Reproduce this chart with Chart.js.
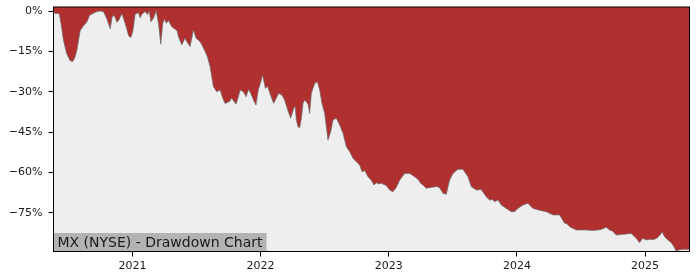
<!DOCTYPE html>
<html>
<head>
<meta charset="utf-8">
<script src="https://cdn.jsdelivr.net/npm/chart.js@4/dist/chart.umd.min.js"></script>
<style>
  html, body { margin: 0; padding: 0; background: #fff; }
  #wrap { width: 700px; height: 280px; }
</style>
</head>
<body>
<div id="wrap"><canvas id="chart"></canvas></div>
<script>
// x positions as decimal years, drawdown in percent
const years = [
  2020.386, 2020.398, 2020.421, 2020.431, 2020.444, 2020.462, 2020.488, 2020.514, 2020.535, 2020.553,
  2020.566, 2020.592, 2020.618, 2020.645, 2020.665, 2020.684, 2020.723, 2020.749, 2020.775, 2020.801,
  2020.827, 2020.840, 2020.853, 2020.866, 2020.879, 2020.892, 2020.905, 2020.918, 2020.931, 2020.952,
  2020.970, 2020.988, 2021.003, 2021.021, 2021.047, 2021.060, 2021.074, 2021.099, 2021.117, 2021.131,
  2021.144, 2021.164, 2021.185, 2021.203, 2021.221, 2021.237, 2021.250, 2021.263, 2021.281, 2021.307,
  2021.348, 2021.359, 2021.385, 2021.411, 2021.424, 2021.450, 2021.476, 2021.497, 2021.507, 2021.528,
  2021.541, 2021.567, 2021.585, 2021.606, 2021.619, 2021.632, 2021.658, 2021.684, 2021.705, 2021.723,
  2021.757, 2021.775, 2021.793, 2021.809, 2021.827, 2021.840, 2021.866, 2021.887, 2021.905, 2021.923,
  2021.944, 2021.964, 2021.982, 2021.998, 2022.016, 2022.037, 2022.055, 2022.076, 2022.102, 2022.122,
  2022.140, 2022.166, 2022.187, 2022.212, 2022.235, 2022.261, 2022.270, 2022.279, 2022.292, 2022.305,
  2022.318, 2022.331, 2022.344, 2022.370, 2022.383, 2022.396, 2022.409, 2022.422, 2022.443, 2022.461,
  2022.479, 2022.500, 2022.513, 2022.526, 2022.547, 2022.565, 2022.591, 2022.617, 2022.643, 2022.669,
  2022.695, 2022.721, 2022.747, 2022.773, 2022.792, 2022.812, 2022.838, 2022.864, 2022.885, 2022.903,
  2022.922, 2022.942, 2022.981, 2023.007, 2023.033, 2023.059, 2023.085, 2023.124, 2023.163, 2023.202,
  2023.228, 2023.249, 2023.267, 2023.293, 2023.319, 2023.371, 2023.397, 2023.423, 2023.449, 2023.475,
  2023.501, 2023.540, 2023.579, 2023.618, 2023.644, 2023.683, 2023.722, 2023.761, 2023.787, 2023.808,
  2023.826, 2023.852, 2023.878, 2023.917, 2023.956, 2023.982, 2024.008, 2024.047, 2024.086, 2024.125,
  2024.177, 2024.229, 2024.281, 2024.333, 2024.372, 2024.391, 2024.411, 2024.463, 2024.502, 2024.541,
  2024.593, 2024.632, 2024.658, 2024.697, 2024.723, 2024.749, 2024.775, 2024.814, 2024.853, 2024.892,
  2024.931, 2024.957, 2024.983, 2025.009, 2025.029, 2025.049, 2025.070, 2025.091, 2025.118, 2025.133,
  2025.152
];
const drawdown = [
  -0.3, -1.0, -0.8, -1.5, -5.0, -11.0, -16.0, -18.5, -18.7, -17.0,
  -14.7, -7.3, -5.5, -4.0, -1.7, -1.1, -0.2, 0.0, -0.3, -3.0,
  -6.7, -2.5, -1.5, -2.5, -4.2, -3.5, -2.2, -1.0, -2.8, -6.0,
  -9.2, -9.8, -7.5, -1.2, -0.6, -2.5, -1.2, -0.2, -1.3, -0.1,
  -4.0, -2.7, 0.0, -4.5, -12.3, -4.5, -3.0, -4.5, -3.5, -5.8,
  -7.3, -9.5, -12.6, -10.0, -11.4, -13.2, -7.0, -10.1, -10.5, -11.4,
  -12.5, -15.0, -17.0, -20.7, -24.4, -28.1, -30.0, -29.3, -32.4, -34.3,
  -33.6, -32.4, -33.6, -34.5, -31.8, -29.3, -30.0, -31.8, -29.1, -30.5,
  -33.0, -34.9, -29.3, -26.9, -23.8, -28.7, -28.0, -31.0, -34.3, -32.4,
  -30.6, -31.2, -33.0, -36.8, -39.8, -35.8, -35.5, -40.5, -43.0, -43.3,
  -40.0, -34.3, -33.0, -34.5, -38.0, -30.6, -28.7, -26.9, -26.2, -29.3,
  -34.3, -38.0, -43.0, -47.9, -44.8, -40.5, -39.8, -42.3, -45.4, -50.4,
  -52.2, -54.7, -56.0, -57.2, -59.7, -59.2, -61.5, -62.8, -64.6, -63.8,
  -64.2, -64.0, -64.8, -66.5, -67.1, -65.5, -62.8, -60.3, -60.3, -61.5,
  -62.5, -64.0, -64.6, -65.8, -65.6, -65.2, -65.6, -67.7, -68.0, -62.8,
  -60.3, -58.8, -58.8, -61.5, -65.2, -66.5, -66.3, -69.0, -70.2, -70.0,
  -70.8, -70.2, -72.0, -73.3, -74.5, -74.5, -73.3, -72.0, -71.4, -73.3,
  -74.0, -74.5, -75.7, -75.7, -78.8, -79.0, -80.1, -81.3, -81.3, -81.3,
  -81.5, -81.3, -81.1, -80.3, -81.3, -81.8, -83.2, -83.0, -82.8, -82.6,
  -84.4, -86.0, -84.4, -85.0, -84.8, -84.8, -84.8, -84.4, -83.2, -82.0,
  -83.8
];
// tail of the series (last weeks)
const tailYears = [2025.178, 2025.204, 2025.226, 2025.241, 2025.264, 2025.296, 2025.347];
const tailDrawdown = [-85.0, -86.0, -87.5, -89.0, -88.7, -88.5, -88.5];

const yearTicks = [2021, 2022, 2023, 2024, 2025];
const pctTicks = [0, -15, -30, -45, -60, -75];
const chartTitle = "MX (NYSE) - Drawdown Chart";

const allYears = years.concat(tailYears);
const allDd = drawdown.concat(tailDrawdown);
const points = allYears.map((y, i) => ({ x: y, y: allDd[i] }));

const fontFamily = "'DejaVu Sans', sans-serif";

// gray plot background + frame + label box
const framePlugin = {
  id: "frame",
  beforeDatasetsDraw: chart => {
    const { ctx, chartArea: a } = chart;
    ctx.save();
    ctx.fillStyle = "#eeeeee";
    ctx.fillRect(a.left, a.top, a.right - a.left, a.bottom - a.top);
    ctx.restore();
  },
  afterDatasetsDraw: chart => {
    const { ctx, chartArea: a } = chart;
    ctx.save();
    // label box
    ctx.font = "14px " + fontFamily;
    const w = ctx.measureText(chartTitle).width;
    ctx.fillStyle = "#b3b3b3";
    ctx.fillRect(a.left, a.bottom - 18.5, w + 8, 18.5);
    ctx.fillStyle = "#1a1a1a";
    ctx.textBaseline = "middle";
    ctx.fillText(chartTitle, a.left + 4, a.bottom - 8.5);
    // frame
    ctx.strokeStyle = "#000";
    ctx.lineWidth = 1;
    ctx.strokeRect(a.left, a.top, a.right - a.left, a.bottom - a.top);
    ctx.restore();
  }
};

new Chart(document.getElementById("chart"), {
  type: "line",
  data: {
    datasets: [{
      data: points,
      fill: "end",
      backgroundColor: "#b03030",
      borderColor: "rgba(110,110,110,0.7)",
      borderWidth: 1,
      pointRadius: 0,
      tension: 0
    }]
  },
  options: {
    responsive: true,
    maintainAspectRatio: false,
    animation: false,
    layout: { padding: { top: 7, right: 10.5, bottom: 0, left: 0 } },
    plugins: {
      legend: { display: false },
      tooltip: { enabled: false }
    },
    scales: {
      x: {
        type: "linear",
        min: 2020.384,
        max: 2025.347,
        afterBuildTicks: s => { s.ticks = yearTicks.map(v => ({ value: v })); },
        afterFit: s => { s.height = 28.5; s.paddingLeft = 0; s.paddingRight = 0; },
        grid: { drawOnChartArea: false, tickLength: 5, tickColor: "#000" },
        border: { display: true, color: "#000" },
        ticks: {
          color: "#1a1a1a",
          padding: 3,
          font: { family: fontFamily, size: 11 },
          callback: v => String(v)
        }
      },
      y: {
        min: -89.3,
        max: 1.5,
        afterBuildTicks: s => { s.ticks = pctTicks.map(v => ({ value: v })); },
        afterFit: s => { s.width = 53.5; s.paddingTop = 0; s.paddingBottom = 0; },
        grid: { drawOnChartArea: false, tickLength: 5, tickColor: "#000" },
        border: { display: true, color: "#000" },
        ticks: {
          color: "#1a1a1a",
          padding: 6,
          font: { family: fontFamily, size: 11 },
          callback: v => (v < 0 ? "\u2212" + Math.abs(v) : v) + "%"
        }
      }
    }
  },
  plugins: [framePlugin]
});
</script>
</body>
</html>
